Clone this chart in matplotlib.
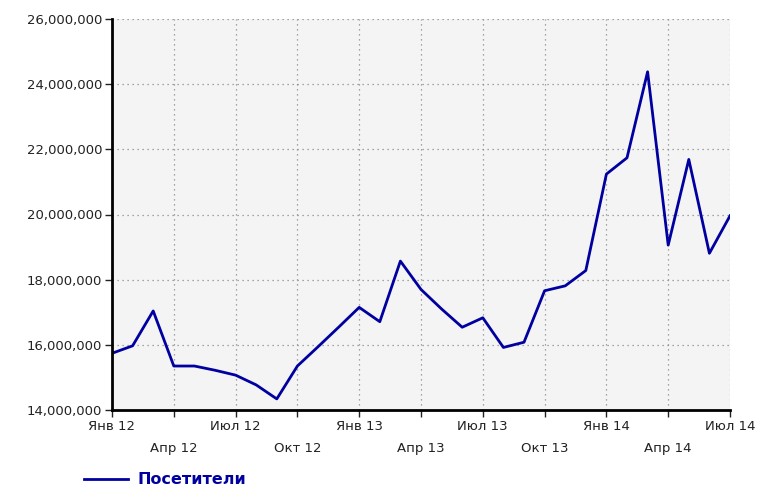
import matplotlib.pyplot as plt
from matplotlib.ticker import FuncFormatter

# monthly visitors, Jan 2012 .. Jul 2014
months = list(range(31))
visitors = [15.74, 15.97, 17.04, 15.35, 15.35, 15.22, 15.07, 14.77, 14.34, 15.35,
            15.94, 16.54, 17.15, 16.71, 18.57, 17.70, 17.10, 16.54, 16.83, 15.92,
            16.08, 17.66, 17.81, 18.28, 21.24, 21.74, 24.38, 19.06, 21.69, 18.81,
            19.96]
visitors = [v * 1e6 for v in visitors]

major_pos = [0, 6, 12, 18, 24, 30]
major_labels = ['Янв 12', 'Июл 12', 'Янв 13', 'Июл 13', 'Янв 14', 'Июл 14']
minor_pos = [3, 9, 15, 21, 27]
minor_labels = ['Апр 12', 'Окт 12', 'Апр 13', 'Окт 13', 'Апр 14']

plt.rcParams['font.family'] = 'DejaVu Sans'
plt.rcParams['font.size'] = 9.5

fig = plt.figure(figsize=(7.6, 4.88), dpi=100)
ax = fig.add_axes([112 / 760, 1 - 410 / 488, 618 / 760, 391 / 488])
ax.set_facecolor('#f4f4f4')

line, = ax.plot(months, visitors, color='#0000a0', lw=2, label='Посетители')

ax.set_xlim(0, 30)
ax.set_ylim(14e6, 26e6)
ax.set_yticks([14e6, 16e6, 18e6, 20e6, 22e6, 24e6, 26e6])
ax.yaxis.set_major_formatter(FuncFormatter(lambda v, p: f'{int(v):,}'))

ax.set_xticks(major_pos)
ax.set_xticklabels(major_labels)
ax.set_xticks(minor_pos, minor=True)
ax.set_xticklabels(minor_labels, minor=True)
ax.tick_params(axis='x', which='major', length=5, width=1, pad=2, colors='#222222')
ax.tick_params(axis='x', which='minor', length=5, width=1, pad=18, colors='#222222')
ax.tick_params(axis='y', length=5, width=1, pad=2, colors='#222222')

ax.grid(True, which='both', color='#8a8a8a', linestyle=(0, (1, 3)), lw=0.9)
ax.set_axisbelow(True)

for s in ['top', 'right']:
    ax.spines[s].set_visible(False)
for s in ['left', 'bottom']:
    ax.spines[s].set_linewidth(2)
    ax.spines[s].set_color('black')

leg = fig.legend(handles=[line], loc='lower left', bbox_to_anchor=(0.091, -0.028),
                 frameon=False, handlelength=2.8, handletextpad=0.55,
                 prop={'weight': 'bold', 'size': 11.5}, labelcolor='#0000a0')

fig.savefig('out.png', dpi=100)
